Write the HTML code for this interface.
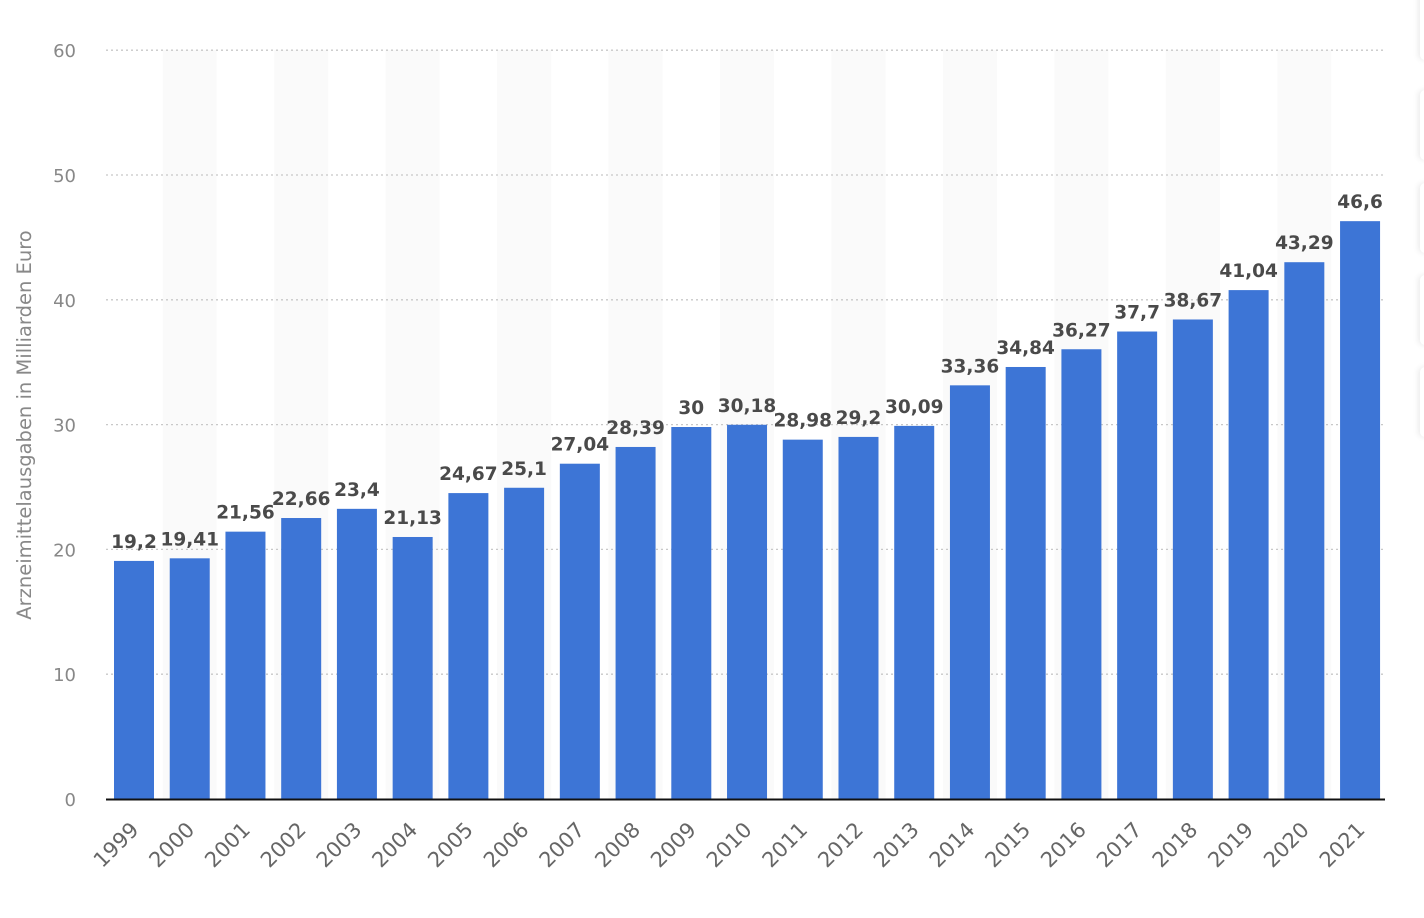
<!DOCTYPE html>
<html><head><meta charset="utf-8"><style>
body{margin:0;background:#fff;width:1424px;height:918px;overflow:hidden;position:relative;font-family:"DejaVu Sans","Liberation Sans",sans-serif}
svg text{font-family:"DejaVu Sans","Liberation Sans",sans-serif}
.card{position:absolute;left:1420px;width:20px;height:70px;background:#fff;border-radius:5px;box-shadow:-2px 0 6px rgba(0,0,0,0.08)}
</style></head><body>
<svg width="1424" height="918" xmlns="http://www.w3.org/2000/svg" style="position:absolute;left:0;top:0">
<g id="bands"></g>
<g id="grid"></g>
<g id="bars"></g>
<line x1="106" y1="799.5" x2="1385" y2="799.5" stroke="#111" stroke-width="2"/>
<text transform="translate(31,425) rotate(-90)" text-anchor="middle" font-size="19.5" fill="#888">Arzneimittelausgaben in Milliarden Euro</text>
</svg>
<div class="card" style="top:-10px"></div>
<div class="card" style="top:90px"></div>
<div class="card" style="top:183px"></div>
<div class="card" style="top:275px"></div>
<div class="card" style="top:367px"></div>
<script>
const vals=[19.2,19.41,21.56,22.66,23.4,21.13,24.67,25.1,27.04,28.39,30,30.18,28.98,29.2,30.09,33.36,34.84,36.27,37.7,38.67,41.04,43.29,46.6];
const ns="http://www.w3.org/2000/svg";
const svg=document.querySelector('svg');
function el(t,a,p,txt){const e=document.createElementNS(ns,t);for(const k in a)e.setAttribute(k,a[k]);if(txt!==undefined)e.textContent=txt;(p||svg).appendChild(e);return e;}
const bands=document.getElementById('bands'),grid=document.getElementById('grid'),bars=document.getElementById('bars');
const y0=799,k=12.48,kb=12.4,step=55.73,c0=134;
vals.forEach((v,i)=>{
 const cx=c0+i*step;
 if(i%2==1) el('rect',{x:cx-27,y:50,width:54,height:749,fill:'#fafafa'},bands);
});
for(let g=0;g<=60;g+=10){
 const y=y0-g*k;
 if(g>0) el('line',{x1:106,y1:y,x2:1385,y2:y,stroke:'#c8c8c8','stroke-width':1.3,'stroke-dasharray':'2,3'},grid);
 el('text',{x:76,y:y+7,'text-anchor':'end','font-size':18,fill:'#888'},svg,String(g));
}
vals.forEach((v,i)=>{
 const cx=c0+i*step,h=v*kb;
 el('rect',{x:cx-20,y:y0-h,width:40,height:h,fill:'#3d75d6'},bars);
 el('text',{x:cx,y:y0-h-13,'text-anchor':'middle','font-size':18.5,'font-weight':'bold',fill:'#4a4a4a'},svg,String(v).replace('.',','));
 el('text',{x:0,y:0,'text-anchor':'end','font-size':21,fill:'#666',transform:`translate(${cx+6},${831}) rotate(-45)`},svg,String(1999+i));
});
</script>
</body></html>
